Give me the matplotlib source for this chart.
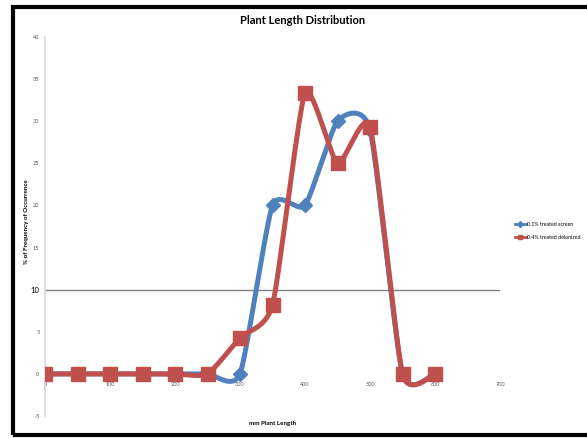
import numpy as np
import matplotlib
matplotlib.use("Agg")
import matplotlib.pyplot as plt
from matplotlib.lines import Line2D
from matplotlib.patches import Rectangle

plt.rcParams['font.family'] = ['Lato', 'DejaVu Sans']

# ---------------------------------------------
# Dados
# ---------------------------------------------
comprimento = [0, 50, 100, 150, 200, 250, 300, 350, 400, 450, 500, 550, 600]
screen = [0, 0, 0, 0, 0, 0, 0, 20, 20, 30, 29, 0, 0]
deionized = [0, 0, 0, 0, 0, 0, 4.3, 8.2, 33.3, 25, 29.3, 0, 0]
rotulos = ["0.1% treated screen", "0.4% treated deionized"]
x_ticks = [0, 100, 200, 300, 400, 500, 600, 700]
y_ticks = [-5, 0, 5, 10, 15, 20, 25, 30, 35, 40]

azul = "#4F81BD"
vermelho = "#C0504D"


# ---------------------------------------------
# Linha suavizada (bezier estilo Excel)
# ---------------------------------------------
def suavizar(x, y, k=0.1, n=40):
    p = np.column_stack([x, y]).astype(float)
    pts = []
    for i in range(len(p) - 1):
        p0 = p[i - 1] if i > 0 else p[i]
        p1 = p[i]
        p2 = p[i + 1]
        p3 = p[i + 2] if i + 2 < len(p) else p[i + 1]
        c1 = p1 + (p2 - p0) * k
        c2 = p2 - (p3 - p1) * k
        t = np.linspace(0, 1, n)[:, None]
        seg = ((1 - t) ** 3) * p1 + 3 * ((1 - t) ** 2) * t * c1 \
            + 3 * (1 - t) * t ** 2 * c2 + t ** 3 * p2
        pts.append(seg)
    s = np.vstack(pts)
    return s[:, 0], s[:, 1]


fig = plt.figure(figsize=(5.87, 4.38), dpi=100)
ax = fig.add_axes([45 / 587, 1 - 416 / 438, 455 / 587, 379 / 438])

xs, ys = suavizar(comprimento, screen)
ax.plot(xs, ys, color=azul, lw=3.6, solid_capstyle="round", zorder=3)
ax.plot(comprimento, screen, ls="none", marker="D", ms=7.5, color=azul, zorder=3)

xs, ys = suavizar(comprimento, deionized)
ax.plot(xs, ys, color=vermelho, lw=3.6, solid_capstyle="round", zorder=4)
ax.plot(comprimento, deionized, ls="none", marker="s", ms=10.5, color=vermelho, zorder=4)

ax.axhline(10, color="#808080", lw=1, zorder=1)

ax.set_xlim(0, 700)
ax.set_ylim(-5, 40)
for lado in ["top", "right", "bottom"]:
    ax.spines[lado].set_visible(False)
ax.spines["left"].set_color("#D9D9D9")
ax.spines["left"].set_linewidth(1.2)
ax.spines["bottom"].set_position(("data", 0))

ax.set_xticks(x_ticks)
ax.set_xticklabels([str(v) for v in x_ticks], fontsize=4, color="#555555")
ax.set_yticks(y_ticks)
ax.set_yticklabels([str(v) for v in y_ticks], fontsize=4, color="#555555")
ax.get_yticklabels()[3].set_fontsize(5.5)
ax.get_yticklabels()[3].set_color("black")
ax.tick_params(axis="x", length=0, pad=5.5)
ax.tick_params(axis="y", length=0, pad=4)

fig.text(303 / 587, 1 - 21 / 438, "Plant Length Distribution", ha="center", va="center",
         fontsize=8, fontweight="bold")
fig.text(27 / 587, 1 - 222 / 438, "% of Frequency of Occurrence", rotation=90,
         ha="center", va="center", fontsize=4.5, fontweight="bold")
fig.text(273 / 587, 1 - 423 / 438, "mm Plant Length", ha="center", va="center",
         fontsize=4.5, fontweight="bold")

# legenda
hs = [Line2D([], [], color=azul, lw=2, marker="D", ms=3),
      Line2D([], [], color=vermelho, lw=2, marker="s", ms=3.5)]
fig.legend(hs, rotulos, loc="center left", bbox_to_anchor=(512 / 587, 1 - 231 / 438),
           frameon=False, fontsize=3.8, handlelength=2.2, handletextpad=0.2,
           labelspacing=1.4, borderpad=0)

# moldura
fig.patches.append(Rectangle((13 / 587, 1 - 435 / 438), 1.2, 428 / 438,
                             transform=fig.transFigure, fill=False,
                             edgecolor="black", lw=3, zorder=10))

fig.savefig("out.png", dpi=100)
